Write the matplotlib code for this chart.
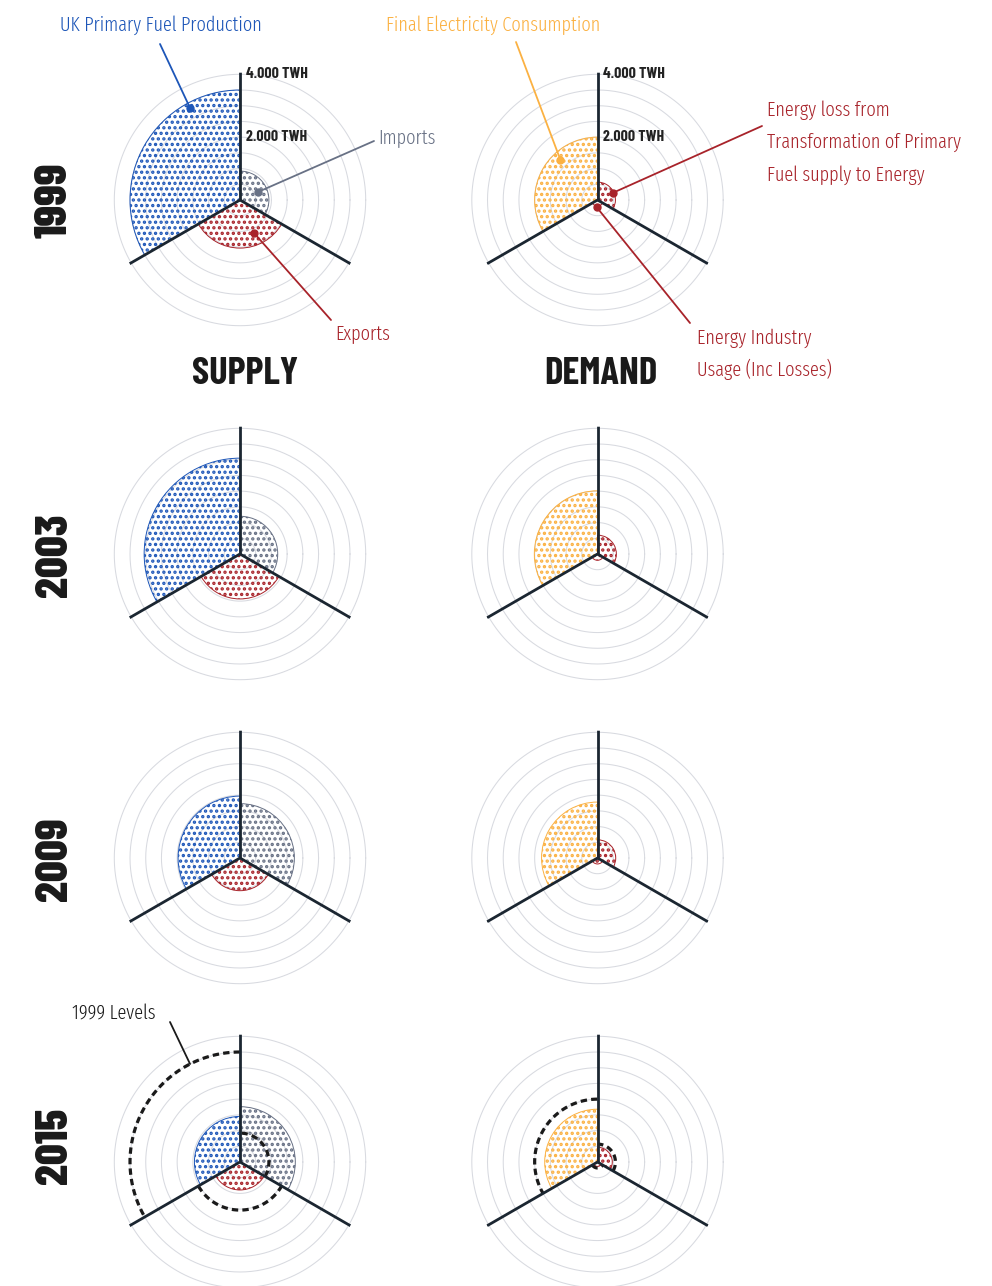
import numpy as np
import matplotlib
matplotlib.use("Agg")
import matplotlib.pyplot as plt
from matplotlib import font_manager as fm

# ---------------- data (TWh) ----------------
years = ["1999", "2003", "2009", "2015"]
supply_labels = ["UK Primary Fuel Production", "Imports", "Exports"]
demand_labels = ["Final Electricity Consumption",
                 "Energy loss from\nTransformation of Primary\nFuel supply to Energy",
                 "Energy Industry\nUsage (Inc Losses)"]
production = [3500, 3050, 1970, 1450]
imports = [920, 1200, 1730, 1760]
exports = [1530, 1430, 1040, 890]
final_consumption = [2000, 2010, 1780, 1680]
transformation_loss = [570, 600, 580, 470]
industry_usage = [190, 200, 190, 140]
grid_levels = [500, 1000, 1500, 2000, 2500, 3000, 3500, 4000]
scale_labels = ["4.000 TWH", "2.000 TWH"]
scale_values = [4000, 2000]
panel_titles = ["SUPPLY", "DEMAND"]
reference_label = "1999 Levels"

# ---------------- style ----------------
W, H, DPI = 992, 1286, 100
BLUE = "#1d56b8"
GRAY = "#687185"
RED = "#a8232a"
ORANGE = "#fbb142"
GRID = "#d8dae0"
AXIS = "#1b2631"
DARK = "#1a1a1a"
plt.rcParams["hatch.linewidth"] = 1.6

_names = {f.name for f in fm.fontManager.ttflist}


def pick(cands):
    for c in cands:
        if c in _names:
            return [c, "DejaVu Sans"]
    return ["DejaVu Sans"]


LIGHT_FONT = pick(["Fira Sans Extra Condensed", "Saira Extra Condensed",
                   "Sofia Sans Extra Condensed", "Barlow Condensed"])
BOLD_FONT = pick(["Barlow Condensed"])

fig = plt.figure(figsize=(W / DPI, H / DPI), dpi=DPI)
overlay = fig.add_axes([0, 0, 1, 1], zorder=10)
overlay.set_xlim(0, W)
overlay.set_ylim(H, 0)
overlay.axis("off")
overlay.patch.set_alpha(0)
renderer = fig.canvas.get_renderer()


def fit(t, target, use_height=False):
    bb = t.get_window_extent(renderer)
    cur = bb.height if use_height else bb.width
    t.set_fontsize(t.get_fontsize() * target / cur)
    return t.get_fontsize()


def fit_spacing(t, nlines, target_dy, ls):
    for _ in range(3):
        probe = overlay.text(0, 0, "Ag", fontsize=t.get_fontsize(), family=t.get_family(),
                             fontweight=t.get_fontweight())
        h1 = probe.get_window_extent(renderer).height
        probe.remove()
        hn = t.get_window_extent(renderer).height
        dy = (hn - h1) / (nlines - 1)
        ls = ls * target_dy / dy
        t.set_linespacing(ls)


RMAX = 4060
PX_PER = 125.7 / 4000
half = RMAX * PX_PER
centers_x = [240, 597.5]
centers_y = [200, 554, 858, 1162]

sector_theta = [np.deg2rad(150), np.deg2rad(30), np.deg2rad(270)]
sector_edges = [(90, 210), (-30, 90), (210, 330)]
WIDTH = np.deg2rad(120)

axes = {}
for row, cy in enumerate(centers_y):
    for col, cx in enumerate(centers_x):
        ax = fig.add_axes([(cx - half) / W, (H - cy - half) / H, 2 * half / W, 2 * half / H],
                          projection="polar", zorder=5)
        ax.set_ylim(0, RMAX)
        ax.grid(False)
        ax.set_xticks([])
        ax.set_yticks([])
        ax.spines["polar"].set_visible(False)
        ax.patch.set_alpha(0)
        full = np.linspace(0, 2 * np.pi, 361)
        for g in grid_levels:
            ax.plot(full, [g] * len(full), color=GRID, lw=0.75, zorder=1)
        if col == 0:
            vals = [production[row], imports[row], exports[row]]
            cols = [BLUE, GRAY, RED]
            ref = [production[0], imports[0], exports[0]]
        else:
            vals = [final_consumption[row], transformation_loss[row], industry_usage[row]]
            cols = [ORANGE, RED, RED]
            ref = [final_consumption[0], transformation_loss[0], industry_usage[0]]
        for th, v, c in zip(sector_theta, vals, cols):
            ax.bar(th, v, width=WIDTH, bottom=0, facecolor="none", edgecolor=c,
                   hatch="...", lw=0.7, zorder=2)
        if row == len(centers_y) - 1:
            for (a0, a1), v in zip(sector_edges, ref):
                arc = np.deg2rad(np.linspace(a0, a1, 120))
                ax.plot(arc, [v] * len(arc), color=DARK, lw=2.3,
                        ls=(0, (2.0, 1.3)), zorder=4)
        for a in (90, 210, 330):
            ax.plot([np.deg2rad(a)] * 2, [0, RMAX], color=AXIS, lw=2.0,
                    solid_capstyle="butt", zorder=5)
        axes[(row, col)] = ax

# scale labels on 1999 row
fs_scale = None
for col in range(2):
    ax = axes[(0, col)]
    for lab, v in zip(scale_labels, scale_values):
        t = ax.annotate(lab, xy=(np.pi / 2, v), xytext=(4, 0), textcoords="offset points",
                        ha="left", va="center", fontsize=10, fontweight="bold",
                        color="#222222", family=BOLD_FONT, zorder=6, annotation_clip=False)
        if fs_scale is None:
            fs_scale = fit(t, 62)
        t.set_fontsize(fs_scale)

# year labels
year_y = [200, 555, 859, 1146]
fs_year = None
for y, lab in zip(year_y, years):
    t = overlay.text(55, y, lab, rotation=90, ha="center", va="center", fontsize=30,
                     fontweight=800, color=DARK, family=BOLD_FONT)
    if fs_year is None:
        fs_year = fit(t, 75, use_height=True)
    t.set_fontsize(fs_year)

# panel titles
t1 = overlay.text(245, 374, panel_titles[0], ha="center", va="center", fontsize=27,
                  fontweight="bold", color=DARK, family=BOLD_FONT)
fs_title = fit(t1, 106)
overlay.text(601, 374, panel_titles[1], ha="center", va="center", fontsize=fs_title,
             fontweight="bold", color=DARK, family=BOLD_FONT)


def leader(ax, theta_deg, r, start, color, dot=True):
    overlay.annotate("", xy=(np.deg2rad(theta_deg), r), xycoords=ax.transData,
                     xytext=start, textcoords="data",
                     arrowprops=dict(arrowstyle="-", color=color, lw=1.3,
                                     shrinkA=0, shrinkB=0), annotation_clip=False)
    if dot:
        ax.plot([np.deg2rad(theta_deg)], [r], "o", color=color, ms=5, zorder=7)


LW = 300
s0, d0 = axes[(0, 0)], axes[(0, 1)]
t = overlay.text(60, 25, supply_labels[0], color=BLUE, fontsize=15, ha="left", va="center",
                 family=LIGHT_FONT, fontweight=LW)
FS = fit(t, 202)
leader(s0, 118.5, 3330, (160, 44), BLUE)
overlay.text(378, 137, supply_labels[1], color=GRAY, fontsize=FS, ha="left", va="center",
             family=LIGHT_FONT, fontweight=LW)
leader(s0, 24, 630, (374, 141), GRAY)
overlay.text(335, 333, supply_labels[2], color=RED, fontsize=FS, ha="left", va="center",
             family=LIGHT_FONT, fontweight=LW)
leader(s0, 293, 1140, (331, 320), RED)

overlay.text(386, 25, demand_labels[0], color=ORANGE, fontsize=FS, ha="left", va="center",
             family=LIGHT_FONT, fontweight=LW)
leader(d0, 132.8, 1735, (516, 42), ORANGE)
tl = overlay.text(767, 142.5, demand_labels[1], color=RED, fontsize=FS, ha="left", va="center",
                  linespacing=1.4, family=LIGHT_FONT, fontweight=LW)
fit_spacing(tl, 3, 32.5, 1.4)
leader(d0, 25, 527, (762, 126), RED)
tu = overlay.text(697, 354, demand_labels[2], color=RED, fontsize=FS, ha="left", va="center",
                  linespacing=1.4, family=LIGHT_FONT, fontweight=LW)
fit_spacing(tu, 2, 32, 1.4)
leader(d0, 262, 225, (690, 323), RED)

overlay.text(72, 1014, reference_label, color=DARK, fontsize=FS, ha="left", va="center",
             family=LIGHT_FONT, fontweight=LW)
leader(axes[(3, 0)], 117, production[0], (170, 1022), DARK, dot=False)

fig.savefig("out.png", dpi=DPI)
